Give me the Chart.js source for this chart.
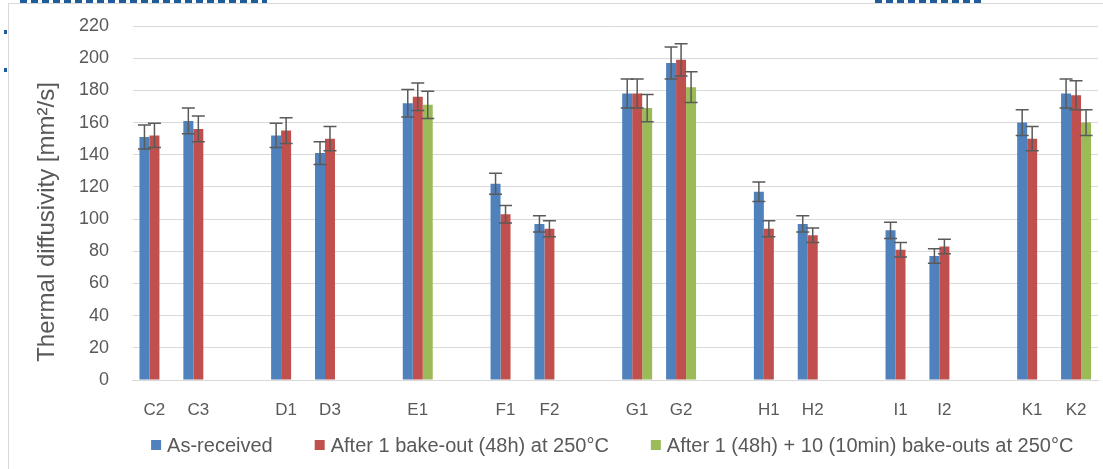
<!DOCTYPE html>
<html>
<head>
<meta charset="utf-8">
<script src="https://cdn.jsdelivr.net/npm/chart.js@4/dist/chart.umd.min.js"></script>
<style>
  html, body { margin: 0; padding: 0; background: #fff; overflow: hidden; }
  #wrap { position: relative; width: 1103px; height: 469px; }
  #frame { position: absolute; left: 8px; top: 3px; right: -2px; bottom: -2px; border: 1px solid #d9d9d9; }
  .dot { position: absolute; left: 4px; width: 3px; height: 4px; background: #1f5c99; }
  .rest { position: absolute; top: 0; height: 3px;
          background: repeating-linear-gradient(90deg, #1f5c99 0 7px, transparent 7px 11px); }
  canvas { position: absolute; left: 0; top: 0; }
</style>
</head>
<body>
<div id="wrap">
  <div class="rest" style="left:20px;width:247px"></div>
  <div class="rest" style="left:875px;width:110px"></div>
  <div id="frame"></div>
  <div class="dot" style="top:30px"></div>
  <div class="dot" style="top:68px"></div>
  <canvas id="c" width="1103" height="469"></canvas>
</div>
<script>
// Proben, leere Einträge = Lücke zwischen den Gruppen
const kategorien = ['C2', 'C3', '', 'D1', 'D3', '', 'E1', '', 'F1', 'F2', '', 'G1', 'G2', '', 'H1', 'H2', '', 'I1', 'I2', '', 'K1', 'K2'];

const serienNamen = [
  'As-received',
  'After 1 bake-out (48h) at 250°C',
  'After 1 (48h) + 10 (10min) bake-outs at 250°C',
];

const wertAnlieferung = [151, 161, null, 152, 141, null, 172, null, 122, 97, null, 178, 197, null, 117, 97, null, 93, 77, null, 160, 178];
const fehlerAnlieferung = [7.5, 8, null, 7.5, 7, null, 8.5, null, 6.5, 5, null, 9, 10, null, 6, 5, null, 5, 4.5, null, 8, 9];

const wertBake1 = [152, 156, null, 155, 150, null, 176, null, 103, 94, null, 178, 199, null, 94, 90, null, 81, 83, null, 150, 177];
const fehlerBake1 = [7.5, 8, null, 8, 7.5, null, 8.5, null, 5.5, 5, null, 9, 10, null, 5, 4.5, null, 4.5, 4.5, null, 7.5, 9];

const wertBake10 = [null, null, null, null, null, null, 171, null, null, null, null, 169, 182, null, null, null, null, null, null, null, null, 160];
const fehlerBake10 = [null, null, null, null, null, null, 8.5, null, null, null, null, 8.5, 9.5, null, null, null, null, null, null, null, null, 8];

const farben = ['#4f81bd', '#c0504d', '#9bbb59'];
const TEXT = '#595959';
const FONT = "'Liberation Sans', Arial, sans-serif";
const ACHSENTITEL = 'Thermal diffusivity [mm²/s]';

// Fehlerbalken über die Skalen zeichnen
const fehlerbalken = {
  id: 'fehlerbalken',
  afterDatasetsDraw(chart) {
    const ctx = chart.ctx;
    const y = chart.scales.y;
    ctx.save();
    ctx.strokeStyle = '#5a5a5a';
    ctx.lineWidth = 1.5;
    chart.data.datasets.forEach((ds, i) => {
      const meta = chart.getDatasetMeta(i);
      meta.data.forEach((bar, j) => {
        const v = ds.data[j];
        const e = ds.fehler[j];
        if (v == null || e == null) return;
        const x = bar.x;
        const yo = y.getPixelForValue(v + e);
        const yu = y.getPixelForValue(v - e);
        ctx.beginPath();
        ctx.moveTo(x, yo); ctx.lineTo(x, yu);
        ctx.moveTo(x - 6.5, yo); ctx.lineTo(x + 6.5, yo);
        ctx.moveTo(x - 6.5, yu); ctx.lineTo(x + 6.5, yu);
        ctx.stroke();
      });
    });
    ctx.restore();
  }
};

// Achsentitel und Legende (Excel-Abstände), zentriert unter dem Diagramm
const beschriftung = {
  id: 'beschriftung',
  afterDraw(chart) {
    const { ctx, chartArea } = chart;
    ctx.save();
    ctx.fillStyle = TEXT;

    ctx.font = `24px ${FONT}`;
    ctx.textAlign = 'center';
    ctx.textBaseline = 'middle';
    ctx.translate(47, 222);
    ctx.rotate(-Math.PI / 2);
    ctx.fillText(ACHSENTITEL, 0, 0);
    ctx.setTransform(1, 0, 0, 1, 0, 0);

    ctx.font = `20px ${FONT}`;
    ctx.textAlign = 'left';
    const box = 10, abstand = 6, luecke = 42, yMitte = 446;
    const breiten = chart.data.datasets.map(ds => box + abstand + ctx.measureText(ds.label).width);
    const gesamt = breiten.reduce((a, b) => a + b, 0) + luecke * (breiten.length - 1);
    let x = (chartArea.left + chartArea.right) / 2 - gesamt / 2 - 3;
    chart.data.datasets.forEach((ds, i) => {
      ctx.fillStyle = ds.backgroundColor;
      ctx.fillRect(x, yMitte - box / 2 - 1, box, box);
      ctx.fillStyle = TEXT;
      ctx.fillText(ds.label, x + box + abstand, yMitte);
      x += breiten[i] + luecke;
    });
    ctx.restore();
  }
};

const werte = [wertAnlieferung, wertBake1, wertBake10];
const fehler = [fehlerAnlieferung, fehlerBake1, fehlerBake10];

new Chart(document.getElementById('c'), {
  type: 'bar',
  data: {
    labels: kategorien,
    datasets: serienNamen.map((name, i) => ({
      label: name,
      data: werte[i],
      fehler: fehler[i],
      backgroundColor: farben[i],
      categoryPercentage: 0.683,
      barPercentage: 1,
    })),
  },
  options: {
    responsive: false,
    animation: false,
    layout: { padding: { left: 0, right: 5, top: 26, bottom: 0 } },
    plugins: {
      legend: { display: false },
      tooltip: { enabled: false },
    },
    scales: {
      x: {
        grid: { display: false },
        border: { display: true, color: '#d9d9d9', width: 1 },
        ticks: {
          color: TEXT,
          font: { family: FONT, size: 17 },
          autoSkip: false,
          maxRotation: 0,
          padding: 12,
        },
        afterFit(s) { s.height = 89; },
      },
      y: {
        min: 0,
        max: 220,
        grid: { color: '#d9d9d9', lineWidth: 1, drawTicks: true, tickLength: 21, tickColor: 'rgba(0,0,0,0)' },
        border: { display: false },
        ticks: {
          stepSize: 20,
          color: TEXT,
          font: { family: FONT, size: 18 },
          padding: 2.5,
        },
        afterFit(s) { s.width = 132.5; },
      },
    },
  },
  plugins: [fehlerbalken, beschriftung],
});
</script>
</body>
</html>
